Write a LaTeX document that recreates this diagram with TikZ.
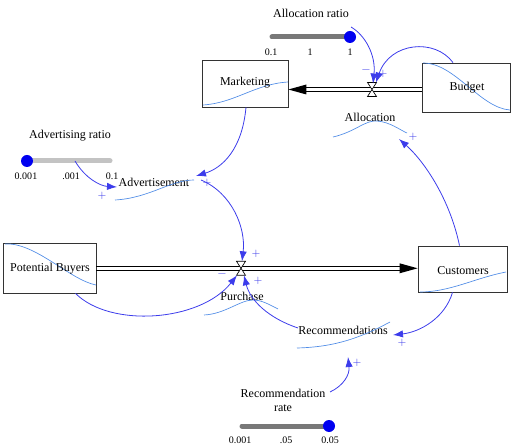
\documentclass[tikz,border=0pt]{standalone}
\usepackage{fontspec}
\setmainfont{Liberation Serif}
\usetikzlibrary{arrows.meta}
\definecolor{lnk}{RGB}{60,60,235}
\definecolor{knob}{RGB}{0,0,240}
\definecolor{crv}{RGB}{80,140,230}
\definecolor{darkbar}{RGB}{120,120,120}
\definecolor{lightbar}{RGB}{195,195,195}
\begin{document}
\begin{tikzpicture}[x=0.75pt,y=-0.75pt,
  stock/.style={draw=black!80, line width=0.6pt, inner sep=0pt},
  lbl/.style={font=\fontsize{9}{10.5}\selectfont, inner sep=0pt},
  tick/.style={font=\fontsize{7.5}{9}\selectfont, inner sep=0pt},
  sgn/.style={font=\fontsize{8}{9}\selectfont\sffamily, text=lnk, inner sep=0pt},
  link/.style={draw=lnk, line width=0.6pt, -{Latex[length=7.5pt,width=5.5pt]}},
  graph/.style={draw=crv, line width=0.5pt},
  pipe/.style={draw=black, line width=0.7pt},
  barD/.style={line width=3.75pt, draw=darkbar, line cap=round},
  barL/.style={line width=3.75pt, draw=lightbar, line cap=round},
  knobc/.style={circle, fill=knob, minimum size=9pt, inner sep=0pt},
  valveshape/.style={draw=black, fill=white, line width=0.5pt}
]
\useasboundingbox (0,0) rectangle (513,448);

% ---------- stocks ----------
\node[stock, minimum width=64.5pt, minimum height=35.25pt] (mkt) at (245,83.5) {};
\node[stock, minimum width=66pt, minimum height=36.75pt] (bud) at (466,87.5) {};
\node[stock, minimum width=69.75pt, minimum height=37.5pt] (pb) at (49.5,268) {};
\node[stock, minimum width=66.75pt, minimum height=34.5pt] (cus) at (462.5,269) {};

% graphs inside stocks
\draw[graph] (203,105) .. controls (235,103) and (255,84) .. (288,82);
\draw[graph] (423,63) .. controls (455,63) and (480,108) .. (510,110);
\draw[graph] (5,244) .. controls (35,242) and (70,280) .. (96,285);
\draw[graph] (420,292) .. controls (450,292) and (475,278) .. (506,272);

\node[lbl] (mktl) at (245,83) {Marketing};
\node[lbl] (budl) at (467,88) {Budget};
\node[lbl] (pbl) at (50,269) {Potential Buyers};
\node[lbl] (cusl) at (463,271) {Customers};

% ---------- flows ----------
\coordinate (v1) at (372,89.5);
\coordinate (v2) at (241,268.3);
\coordinate (f1tip) at (mkt.east |- v1);
\coordinate (f2tip) at (cus.west |- v2);
\coordinate (f1src) at (bud.west |- v1);
\coordinate (f2src) at (pb.east |- v2);
\draw[pipe] ([shift={(0,-1.7)}]f1src) -- ([shift={(16,-1.7)}]f1tip);
\draw[pipe] ([shift={(0,1.7)}]f1src) -- ([shift={(16,1.7)}]f1tip);
\fill (f1tip) -- ([shift={(18,-5)}]f1tip) -- ([shift={(18,5)}]f1tip) -- cycle;
\draw[pipe] ([shift={(0,-1.7)}]f2src) -- ([shift={(-16,-1.7)}]f2tip);
\draw[pipe] ([shift={(0,1.7)}]f2src) -- ([shift={(-16,1.7)}]f2tip);
\fill (f2tip) -- ([shift={(-18,-5)}]f2tip) -- ([shift={(-18,5)}]f2tip) -- cycle;

\foreach \v in {v1,v2}{
  \draw[valveshape] ([shift={(-4.5,-7)}]\v) -- ([shift={(4.5,-7)}]\v) -- (\v) -- cycle;
  \draw[valveshape] ([shift={(-4.5,7)}]\v) -- ([shift={(4.5,7)}]\v) -- (\v) -- cycle;
}

% ---------- auxiliaries ----------
\node[lbl] (alloc) at (370,117) {Allocation};
\draw[graph] (333,137) .. controls (355,132) and (365,120) .. (377,121) .. controls (390,122) and (400,130) .. (407,133);
\node[lbl] (adv) at (154,182) {Advertisement};
\draw[graph] (115,200) .. controls (150,198) and (170,180) .. (194,180);
\node[lbl] (pur) at (242,296) {Purchase};
\draw[graph] (204,315) .. controls (225,314) and (240,300) .. (253,300) .. controls (262,300) and (270,305) .. (278,309);
\node[lbl] (rec) at (343,330) {Recommendations};
\draw[graph] (297,348) .. controls (335,347) and (360,338) .. (390,322);

% ---------- sliders ----------
\node[lbl] (arl) at (311,13) {Allocation ratio};
\draw[barD] (272,37) -- (350,37);
\node[knobc] (k1) at (350,37) {};
\node[tick] (t11) at (271,52) {0.1};
\node[tick] (t12) at (310,52) {1};
\node[tick] (t13) at (350,52) {1};

\node[lbl] (advr) at (70,136) {Advertising ratio};
\draw[barL] (27,161) -- (110,161);
\node[knobc] (k2) at (27,161) {};
\node[tick] (t21) at (26,176) {0.001};
\node[tick] (t22) at (71,176) {.001};
\node[tick] (t23) at (112,176) {0.1};

\node[lbl, align=center] (rrl) at (283,400) {Recommendation\\rate};
\draw[barD] (242,426) -- (329,426);
\node[knobc] (k3) at (329,426) {};
\node[tick] (t31) at (240,440) {0.001};
\node[tick] (t32) at (286,440) {.05};
\node[tick] (t33) at (330,440) {0.05};

% ---------- links ----------
\coordinate (ar1) at (351,27);
\draw[link] (ar1) .. controls (365,35) and (376,55) .. ([shift={(1,-6)}]v1);
\draw[link] ([shift={(-13,0)}]bud.north) .. controls (435,38) and (390,42) .. ([shift={(4,-7)}]v1);
\node[sgn] (m1) at (366,71) {−};
\node[sgn] (p1) at (383,74) {+};

\draw[link] ([shift={(-3,0)}]cus.north) .. controls (450,200) and (425,162) .. ([shift={(29,22)}]alloc.center);
\node[sgn] (p2) at (413,137) {+};

\draw[link] ([shift={(1,0)}]mkt.south) .. controls (242,150) and (222,168) .. ([shift={(42,-6)}]adv.center);
\coordinate (advtick) at (75,161);
\draw[link] (advtick) .. controls (85,178) and (100,186) .. ([shift={(-37,5)}]adv.center);
\node[sgn] (p3) at (102,196) {+};
\node[sgn] (p4) at (207,183) {+};

\draw[link] ([shift={(47,-2)}]adv.center) .. controls (232,193) and (246,228) .. ([shift={(1,-7)}]v2);
\node[sgn] (p5) at (256,254) {+};

\draw[link] ([shift={(26,0)}]pb.south) .. controls (110,328) and (200,322) .. ([shift={(-4,7)}]v2);
\node[sgn] (m2) at (222,275) {−};

\draw[link] ([shift={(-45,-2)}]rec.center) .. controls (268,318) and (250,300) .. ([shift={(3,7)}]v2);
\node[sgn] (p6) at (258,281) {+};

\draw[link] ([shift={(-10,0)}]cus.south) .. controls (445,318) and (420,332) .. ([shift={(50,5)}]rec.center);
\node[sgn] (p7) at (402,343) {+};

\draw[link] ([shift={(47,-8)}]rrl.center) .. controls (343,386) and (350,375) .. ([shift={(5,27)}]rec.center);
\node[sgn] (p8) at (357,363) {+};
\end{tikzpicture}
\end{document}
